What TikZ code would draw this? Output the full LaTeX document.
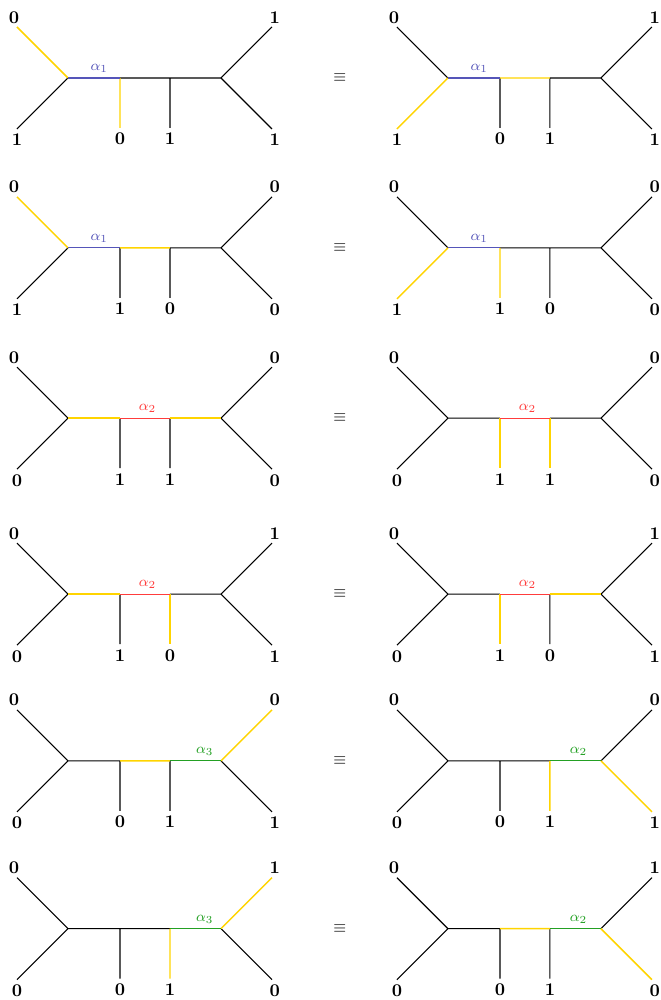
\documentclass[tikz,border=0pt]{standalone}
\usetikzlibrary{positioning}

\definecolor{flipyellow}{RGB}{255,212,0}
\definecolor{alphablue}{RGB}{85,85,185}
\definecolor{alphared}{RGB}{255,60,60}
\definecolor{alphagreen}{RGB}{35,160,35}

\tikzset{
  leaf/.style={font=\bfseries, inner sep=1pt},
  alab/.style={above, font=\footnotesize, inner sep=2.6pt},
  yel/.style={color=flipyellow, line width=0.8pt},
  blu/.style={color=alphablue},
  rd/.style={color=alphared},
  grn/.style={color=alphagreen}
}

\begin{document}
\begin{tikzpicture}[line width=0.6pt]
  \useasboundingbox (-1.333,1.529) rectangle (11.627,-18.078);
  % points and leaf labels of the twelve trees
  \foreach \t/\x/\y/\a/\b/\c/\d/\e/\f in {
    1a/0/0/0/1/0/1/1/1, 1b/7.45/0/0/1/0/1/1/1,
    2a/0/-3.33/0/1/1/0/0/0, 2b/7.45/-3.33/0/1/1/0/0/0,
    3a/0/-6.67/0/0/1/1/0/0, 3b/7.45/-6.67/0/0/1/1/0/0,
    4a/0/-10.12/0/0/1/0/1/1, 4b/7.45/-10.12/0/0/1/0/1/1,
    5a/0/-13.39/0/0/0/1/0/1, 5b/7.45/-13.39/0/0/0/1/0/1,
    6a/0/-16.68/0/0/0/1/1/0, 6b/7.45/-16.68/0/0/0/1/1/0}{
    \coordinate (\t-l) at (\x,\y);
    \coordinate (\t-m) at (\x+1.02,\y);
    \coordinate (\t-n) at (\x+2,\y);
    \coordinate (\t-r) at (\x+3,\y);
    \coordinate (\t-tl) at (\x-1,\y+1);
    \coordinate (\t-bl) at (\x-1,\y-1);
    \coordinate (\t-bm) at (\x+1.02,\y-0.98);
    \coordinate (\t-bn) at (\x+2,\y-0.98);
    \coordinate (\t-tr) at (\x+4,\y+1);
    \coordinate (\t-br) at (\x+4,\y-1);
    \node[leaf, above=0.8pt of \t-tl, xshift=-1.6pt] (\t-tl-lab) {\a};
    \node[leaf, below=1.6pt of \t-bl] (\t-bl-lab) {\b};
    \node[leaf, below=1.6pt of \t-bm] (\t-bm-lab) {\c};
    \node[leaf, below=1.6pt of \t-bn] (\t-bn-lab) {\d};
    \node[leaf, above=0.8pt of \t-tr, xshift=1.6pt] (\t-tr-lab) {\e};
    \node[leaf, below=1.6pt of \t-br, xshift=1.6pt] (\t-br-lab) {\f};
  }
  \foreach \r/\y in {1/0, 2/-3.33, 3/-6.67, 4/-10.12, 5/-13.39, 6/-16.68}
    \node[font=\small] (eq\r) at (5.33,\y) {$\equiv$};

  % row 1
  \draw (1a-l) -- (1a-bl) (1a-m) -- (1a-r) (1a-n) -- (1a-bn) (1a-tr) -- (1a-r) -- (1a-br);
  \draw[yel] (1a-tl) -- (1a-l) (1a-m) -- (1a-bm);
  \draw[blu] (1a-l) -- node[alab, pos=0.6] (a1a) {$\alpha_1$} (1a-m);
  \draw (1b-tl) -- (1b-l) (1b-n) -- (1b-r) (1b-m) -- (1b-bm) (1b-n) -- (1b-bn) (1b-tr) -- (1b-r) -- (1b-br);
  \draw[yel] (1b-l) -- (1b-bl) (1b-m) -- (1b-n);
  \draw[blu] (1b-l) -- node[alab, pos=0.6] (a1b) {$\alpha_1$} (1b-m);
  % row 2
  \draw (2a-l) -- (2a-bl) (2a-n) -- (2a-r) (2a-m) -- (2a-bm) (2a-n) -- (2a-bn) (2a-tr) -- (2a-r) -- (2a-br);
  \draw[yel] (2a-tl) -- (2a-l) (2a-m) -- (2a-n);
  \draw[blu] (2a-l) -- node[alab, pos=0.6] (a2a) {$\alpha_1$} (2a-m);
  \draw (2b-tl) -- (2b-l) (2b-m) -- (2b-r) (2b-n) -- (2b-bn) (2b-tr) -- (2b-r) -- (2b-br);
  \draw[yel] (2b-l) -- (2b-bl) (2b-m) -- (2b-bm);
  \draw[blu] (2b-l) -- node[alab, pos=0.6] (a2b) {$\alpha_1$} (2b-m);
  % row 3
  \draw (3a-tl) -- (3a-l) -- (3a-bl) (3a-m) -- (3a-bm) (3a-n) -- (3a-bn) (3a-tr) -- (3a-r) -- (3a-br);
  \draw[yel] (3a-l) -- (3a-m) (3a-n) -- (3a-r);
  \draw[rd] (3a-m) -- node[alab, pos=0.55] (a3a) {$\alpha_2$} (3a-n);
  \draw (3b-tl) -- (3b-l) -- (3b-bl) (3b-l) -- (3b-m) (3b-n) -- (3b-r) (3b-tr) -- (3b-r) -- (3b-br);
  \draw[yel] (3b-m) -- (3b-bm) (3b-n) -- (3b-bn);
  \draw[rd] (3b-m) -- node[alab, pos=0.55] (a3b) {$\alpha_2$} (3b-n);
  % row 4
  \draw (4a-tl) -- (4a-l) -- (4a-bl) (4a-m) -- (4a-bm) (4a-n) -- (4a-r) (4a-tr) -- (4a-r) -- (4a-br);
  \draw[yel] (4a-l) -- (4a-m) (4a-n) -- (4a-bn);
  \draw[rd] (4a-m) -- node[alab, pos=0.55] (a4a) {$\alpha_2$} (4a-n);
  \draw (4b-tl) -- (4b-l) -- (4b-bl) (4b-l) -- (4b-m) (4b-n) -- (4b-bn) (4b-tr) -- (4b-r) -- (4b-br);
  \draw[yel] (4b-m) -- (4b-bm) (4b-n) -- (4b-r);
  \draw[rd] (4b-m) -- node[alab, pos=0.55] (a4b) {$\alpha_2$} (4b-n);
  % row 5
  \draw (5a-tl) -- (5a-l) -- (5a-bl) (5a-l) -- (5a-m) (5a-m) -- (5a-bm) (5a-n) -- (5a-bn) (5a-r) -- (5a-br);
  \draw[yel] (5a-m) -- (5a-n) (5a-r) -- (5a-tr);
  \draw[grn] (5a-n) -- node[alab, pos=0.68] (a5a) {$\alpha_3$} (5a-r);
  \draw (5b-tl) -- (5b-l) -- (5b-bl) (5b-l) -- (5b-n) (5b-m) -- (5b-bm) (5b-tr) -- (5b-r);
  \draw[yel] (5b-n) -- (5b-bn) (5b-r) -- (5b-br);
  \draw[grn] (5b-n) -- node[alab, pos=0.56] (a5b) {$\alpha_2$} (5b-r);
  % row 6
  \draw (6a-tl) -- (6a-l) -- (6a-bl) (6a-l) -- (6a-n) (6a-m) -- (6a-bm) (6a-r) -- (6a-br);
  \draw[yel] (6a-n) -- (6a-bn) (6a-r) -- (6a-tr);
  \draw[grn] (6a-n) -- node[alab, pos=0.68] (a6a) {$\alpha_3$} (6a-r);
  \draw (6b-tl) -- (6b-l) -- (6b-bl) (6b-l) -- (6b-m) (6b-m) -- (6b-bm) (6b-n) -- (6b-bn) (6b-tr) -- (6b-r);
  \draw[yel] (6b-m) -- (6b-n) (6b-r) -- (6b-br);
  \draw[grn] (6b-n) -- node[alab, pos=0.56] (a6b) {$\alpha_2$} (6b-r);
\end{tikzpicture}
\end{document}
